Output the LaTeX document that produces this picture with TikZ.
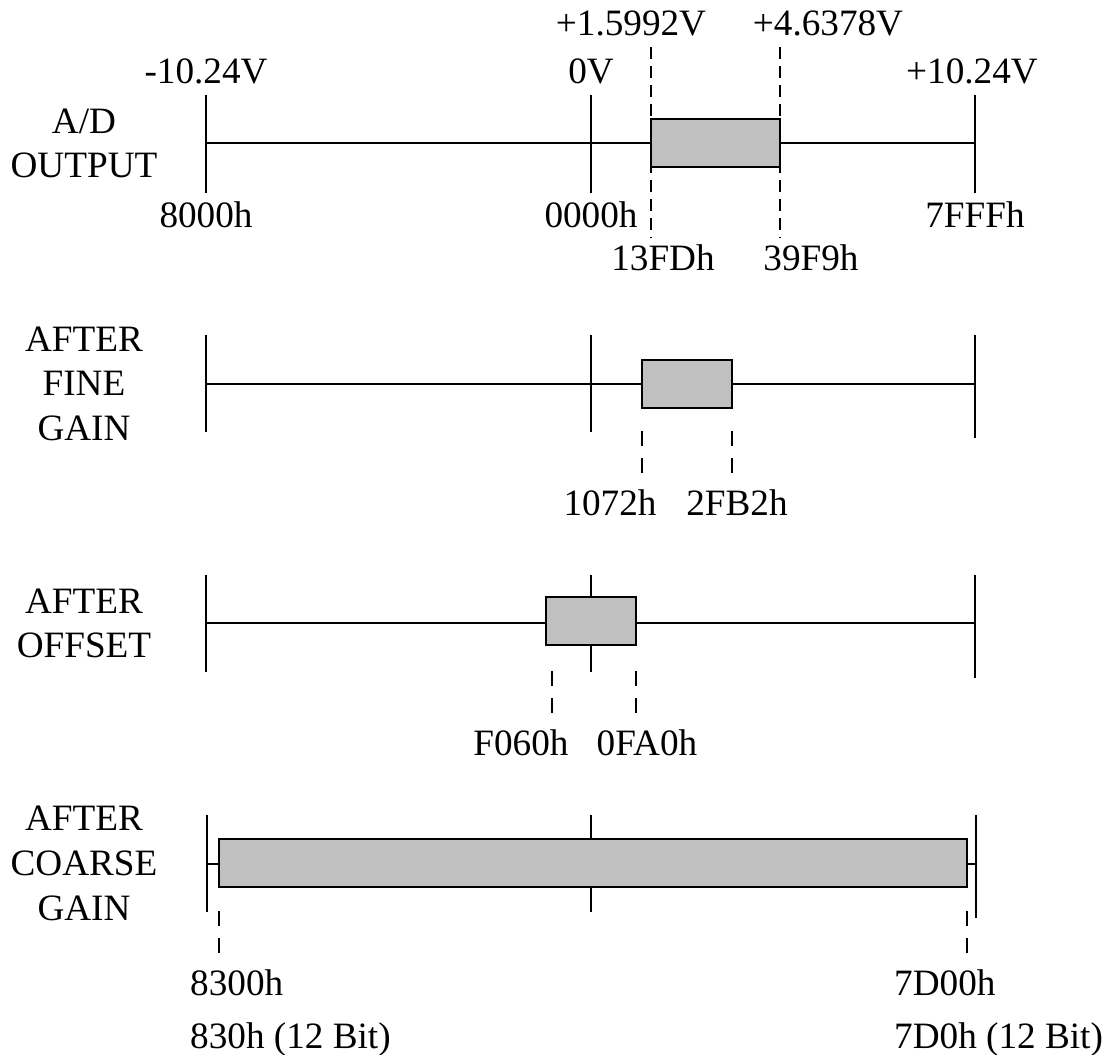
\documentclass[tikz,border=0pt]{standalone}
\usepackage{fontspec}
\setmainfont{Liberation Serif}
\definecolor{boxgray}{RGB}{192,192,192}
\begin{document}
\begin{tikzpicture}[x=1pt,y=-1pt,
  lbl/.style={inner sep=0pt, anchor=base, font=\fontsize{37.2}{44}\selectfont},
  lbll/.style={lbl, anchor=base west},
  axisline/.style={line width=2pt},
  tickline/.style={line width=2pt},
  rangebox/.style={draw, line width=2pt, fill=boxgray},
  dashA/.style={line width=2pt, dash pattern=on 12pt off 7pt},
  dashB/.style={line width=2pt, dash pattern=on 15pt off 12pt}]
\useasboundingbox (0,0) rectangle (1109,1055);

% ---------------- Row 1: A/D OUTPUT ----------------
\coordinate (a1L) at (206,143); \coordinate (a1R) at (975,143);
\coordinate (t1aT) at (206,95);  \coordinate (t1aB) at (206,193);
\coordinate (t1bT) at (591,95);  \coordinate (t1bB) at (591,193);
\coordinate (t1cT) at (975,95);  \coordinate (t1cB) at (975,193);
\coordinate (d1aT) at (651,47);  \coordinate (d1aB) at (651,238);
\coordinate (d1bT) at (780,47);  \coordinate (d1bB) at (780,238);
\coordinate (b1a) at (651,119);  \coordinate (b1b) at (780,167);
\draw[axisline] (a1L) -- (a1R);
\draw[tickline] (t1aT) -- (t1aB);
\draw[tickline] (t1bT) -- (t1bB);
\draw[tickline] (t1cT) -- (t1cB);
\draw[dashA] (d1aT) -- (d1aB);
\draw[dashA] (d1bT) -- (d1bB);
\path[rangebox] (b1a) rectangle (b1b);

\node[lbl] (l1a) at (84,133) {A/D};
\node[lbl] (l1b) at (84,177) {OUTPUT};
\node[lbl] (v1) at (206,83) {-10.24V};
\node[lbl] (v2) at (591,83) {0V};
\node[lbl] (v3) at (972,83) {+10.24V};
\node[lbl] (v4) at (631,35) {+1.5992V};
\node[lbl] (v5) at (828,35) {+4.6378V};
\node[lbl] (h1) at (206,227) {8000h};
\node[lbl] (h2) at (591,227) {0000h};
\node[lbl] (h3) at (975,227) {7FFFh};
\node[lbl] (h4) at (663,270) {13FDh};
\node[lbl] (h5) at (811,270) {39F9h};

% ---------------- Row 2: AFTER FINE GAIN ----------------
\coordinate (a2L) at (206,384); \coordinate (a2R) at (975,384);
\coordinate (t2aT) at (206,335); \coordinate (t2aB) at (206,432);
\coordinate (t2bT) at (591,335); \coordinate (t2bB) at (591,432);
\coordinate (t2cT) at (975,335); \coordinate (t2cB) at (975,438);
\coordinate (d2aT) at (642,431); \coordinate (d2aB) at (642,473);
\coordinate (d2bT) at (732,431); \coordinate (d2bB) at (732,473);
\coordinate (b2a) at (642,360);  \coordinate (b2b) at (732,408);
\draw[axisline] (a2L) -- (a2R);
\draw[tickline] (t2aT) -- (t2aB);
\draw[tickline] (t2bT) -- (t2bB);
\draw[tickline] (t2cT) -- (t2cB);
\draw[dashB] (d2aT) -- (d2aB);
\draw[dashB] (d2bT) -- (d2bB);
\path[rangebox] (b2a) rectangle (b2b);

\node[lbl] (l2a) at (84,351) {AFTER};
\node[lbl] (l2b) at (84,395) {FINE};
\node[lbl] (l2c) at (84,440) {GAIN};
\node[lbl] (h6) at (610,515) {1072h};
\node[lbl] (h7) at (737,515) {2FB2h};

% ---------------- Row 3: AFTER OFFSET ----------------
\coordinate (a3L) at (206,623); \coordinate (a3R) at (975,623);
\coordinate (t3aT) at (206,575); \coordinate (t3aB) at (206,672);
\coordinate (t3bT) at (591,575); \coordinate (t3bB) at (591,672);
\coordinate (t3cT) at (975,575); \coordinate (t3cB) at (975,678);
\coordinate (d3aT) at (552,671); \coordinate (d3aB) at (552,713);
\coordinate (d3bT) at (636,671); \coordinate (d3bB) at (636,713);
\coordinate (b3a) at (546,597);  \coordinate (b3b) at (636,645);
\draw[axisline] (a3L) -- (a3R);
\draw[tickline] (t3aT) -- (t3aB);
\draw[tickline] (t3bT) -- (t3bB);
\draw[tickline] (t3cT) -- (t3cB);
\draw[dashB] (d3aT) -- (d3aB);
\draw[dashB] (d3bT) -- (d3bB);
\path[rangebox] (b3a) rectangle (b3b);

\node[lbl] (l3a) at (84,613) {AFTER};
\node[lbl] (l3b) at (84,657) {OFFSET};
\node[lbl] (h8) at (521,755) {F060h};
\node[lbl] (h9) at (647,755) {0FA0h};

% ---------------- Row 4: AFTER COARSE GAIN ----------------
\coordinate (a4L) at (207,864); \coordinate (a4R) at (976,864);
\coordinate (t4aT) at (207,815); \coordinate (t4aB) at (207,912);
\coordinate (t4bT) at (591,815); \coordinate (t4bB) at (591,912);
\coordinate (t4cT) at (976,815); \coordinate (t4cB) at (976,918);
\coordinate (d4aT) at (219,911); \coordinate (d4aB) at (219,953);
\coordinate (d4bT) at (967,911); \coordinate (d4bB) at (967,953);
\coordinate (b4a) at (219,839);  \coordinate (b4b) at (967,887);
\draw[axisline] (a4L) -- (a4R);
\draw[tickline] (t4aT) -- (t4aB);
\draw[tickline] (t4bT) -- (t4bB);
\draw[tickline] (t4cT) -- (t4cB);
\draw[dashB] (d4aT) -- (d4aB);
\draw[dashB] (d4bT) -- (d4bB);
\path[rangebox] (b4a) rectangle (b4b);

\node[lbl] (l4a) at (84,830) {AFTER};
\node[lbl] (l4b) at (84,875) {COARSE};
\node[lbl] (l4c) at (84,920) {GAIN};
\node[lbll] (h10) at (190,995) {8300h};
\node[lbll] (h11) at (190,1048) {830h (12 Bit)};
\node[lbll] (h12) at (894,995) {7D00h};
\node[lbll] (h13) at (894,1048) {7D0h (12 Bit)};
\end{tikzpicture}
\end{document}
